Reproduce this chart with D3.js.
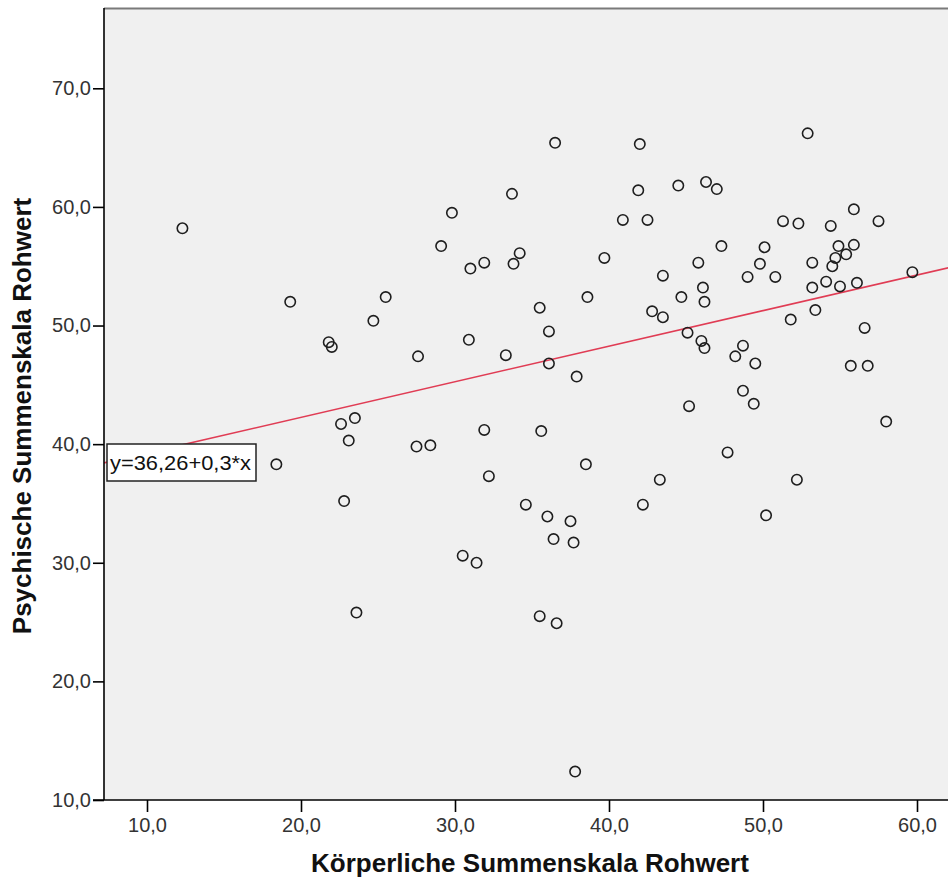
<!DOCTYPE html>
<html>
<head>
<meta charset="utf-8">
<script src="https://cdn.jsdelivr.net/npm/d3@7"></script>
<style>
  body { margin: 0; background: #fff; }
  text { font-family: "Liberation Sans", Arial, sans-serif; }
</style>
</head>
<body>
<div id="chart"></div>
<script>
// Körperliche (x) / Psychische (y) Summenskala Rohwert
var xValues = [
  12.3, 18.4, 19.3, 21.8, 22.0, 25.5, 24.7, 23.5, 22.6, 23.1, 22.8, 23.6,
  36.5, 42.0, 33.7, 41.9, 29.8, 40.9, 42.5, 29.1, 31.0, 31.9, 34.2, 33.8,
  39.7, 43.5, 38.6, 35.5, 42.8, 43.5, 36.1, 30.9, 27.6, 33.3, 36.1, 37.9,
  27.5, 28.4, 31.9, 35.6, 38.5, 43.3, 32.2, 42.2, 34.6, 36.0, 37.5, 36.4,
  37.7, 30.5, 31.4, 35.5, 36.6, 37.8,
  52.9, 44.5, 46.3, 47.0, 55.9, 57.5, 51.3, 52.3, 54.4, 47.3, 50.1, 54.9,
  55.9, 55.4, 54.7, 54.5, 45.8, 49.8, 53.2, 49.0, 50.8, 46.1, 53.2, 54.1,
  55.0, 56.1, 59.7, 44.7, 46.2, 53.4, 51.8, 56.6, 45.1, 46.0, 46.2, 48.7,
  48.2, 49.5, 55.7, 56.8, 48.7, 45.2, 49.4,
  58.0, 47.7, 52.2, 50.2
];
var yValues = [
  58.2, 38.3, 52.0, 48.6, 48.2, 52.4, 50.4, 42.2, 41.7, 40.3, 35.2, 25.8,
  65.4, 65.3, 61.1, 61.4, 59.5, 58.9, 58.9, 56.7, 54.8, 55.3, 56.1, 55.2,
  55.7, 54.2, 52.4, 51.5, 51.2, 50.7, 49.5, 48.8, 47.4, 47.5, 46.8, 45.7,
  39.8, 39.9, 41.2, 41.1, 38.3, 37.0, 37.3, 34.9, 34.9, 33.9, 33.5, 32.0,
  31.7, 30.6, 30.0, 25.5, 24.9, 12.4,
  66.2, 61.8, 62.1, 61.5, 59.8, 58.8, 58.8, 58.6, 58.4, 56.7, 56.6, 56.7,
  56.8, 56.0, 55.7, 55.0, 55.3, 55.2, 55.3, 54.1, 54.1, 53.2, 53.2, 53.7,
  53.3, 53.6, 54.5, 52.4, 52.0, 51.3, 50.5, 49.8, 49.4, 48.7, 48.1, 48.3,
  47.4, 46.8, 46.6, 46.6, 44.5, 43.2, 43.4,
  41.9, 39.3, 37.0, 34.0
];
var xTicks = [10, 20, 30, 40, 50, 60];
var yTicks = [10, 20, 30, 40, 50, 60, 70];
var fitIntercept = 36.26, fitSlope = 0.3;
var fitLabel = "y=36,26+0,3*x";

var width = 948, height = 883;
var plot = {left: 104, right: 950, top: 8, bottom: 800};

var svg = d3.select("#chart")
  .append("svg")
    .attr("width", width)
    .attr("height", height);

var x = d3.scaleLinear().domain([10, 60]).range([147, 917]);
var y = d3.scaleLinear().domain([10, 70]).range([800, 88.3]);

var fmt = function(d) { return d3.format(".1f")(d).replace(".", ","); };

// plot background
svg.append("rect")
  .attr("x", plot.left).attr("y", plot.top)
  .attr("width", plot.right - plot.left).attr("height", plot.bottom - plot.top)
  .style("fill", "#f0f0f0");
svg.append("line")
  .attr("x1", plot.left).attr("x2", plot.right)
  .attr("y1", plot.top + 0.5).attr("y2", plot.top + 0.5)
  .style("stroke", "#7a7a7a").style("stroke-width", 2);

svg.append("clipPath").attr("id", "clip")
  .append("rect")
  .attr("x", plot.left).attr("y", plot.top)
  .attr("width", plot.right - plot.left).attr("height", plot.bottom - plot.top);

var g = svg.append("g").attr("clip-path", "url(#clip)");

// fit line
var x0 = x.invert(plot.left), x1 = x.invert(plot.right);
g.append("line")
  .attr("x1", x(x0)).attr("y1", y(fitIntercept + fitSlope * x0))
  .attr("x2", x(x1)).attr("y2", y(fitIntercept + fitSlope * x1))
  .style("stroke", "#e03c54").style("stroke-width", 1.6);

// points
var points = xValues.map(function(v, i) { return [v, yValues[i]]; });
g.selectAll("circle")
  .data(points)
  .enter()
  .append("circle")
    .attr("cx", function(d) { return x(d[0]); })
    .attr("cy", function(d) { return y(d[1]); })
    .attr("r", 5.2)
    .style("fill", "none")
    .style("stroke", "#1e1e1e")
    .style("stroke-width", 1.6);

// axes
var xAxis = d3.axisBottom(x).tickValues(xTicks).tickFormat(fmt).tickSize(12).tickPadding(6);
var yAxis = d3.axisLeft(y).tickValues(yTicks).tickFormat(fmt).tickSize(11).tickPadding(2);

var gx = svg.append("g").attr("transform", "translate(0," + plot.bottom + ")").call(xAxis);
gx.select(".domain").remove();
gx.append("line")
  .attr("x1", 93).attr("x2", plot.right)
  .style("stroke", "#000").style("stroke-width", 1.6);

var gy = svg.append("g").attr("transform", "translate(" + plot.left + ",0)").call(yAxis);
gy.select(".domain").remove();
gy.append("line")
  .attr("y1", plot.top).attr("y2", plot.bottom)
  .style("stroke", "#000").style("stroke-width", 1.6);

svg.selectAll(".tick line").style("stroke", "#000").style("stroke-width", 1.6);
svg.selectAll(".tick text")
  .style("font-size", "20px")
  .style("fill", "#333")
  .style("font-family", "'Liberation Sans', Arial, sans-serif");

// equation label
var box = svg.append("g").attr("transform", "translate(107,444)");
box.append("rect")
  .attr("width", 149).attr("height", 37)
  .style("fill", "#fff").style("stroke", "#222").style("stroke-width", 1.5);
box.append("text")
  .attr("x", 3).attr("y", 26)
  .attr("textLength", 141)
  .attr("lengthAdjust", "spacingAndGlyphs")
  .style("font-size", "21px")
  .style("fill", "#111")
  .text(fitLabel);

// axis titles
svg.append("text")
  .attr("x", 530).attr("y", 872)
  .attr("text-anchor", "middle")
  .style("font-size", "26px")
  .style("font-weight", "bold")
  .style("fill", "#111")
  .text("Körperliche Summenskala Rohwert");

svg.append("text")
  .attr("transform", "translate(31,416) rotate(-90)")
  .attr("text-anchor", "middle")
  .style("font-size", "26px")
  .style("font-weight", "bold")
  .style("fill", "#111")
  .text("Psychische Summenskala Rohwert");
</script>
</body>
</html>
